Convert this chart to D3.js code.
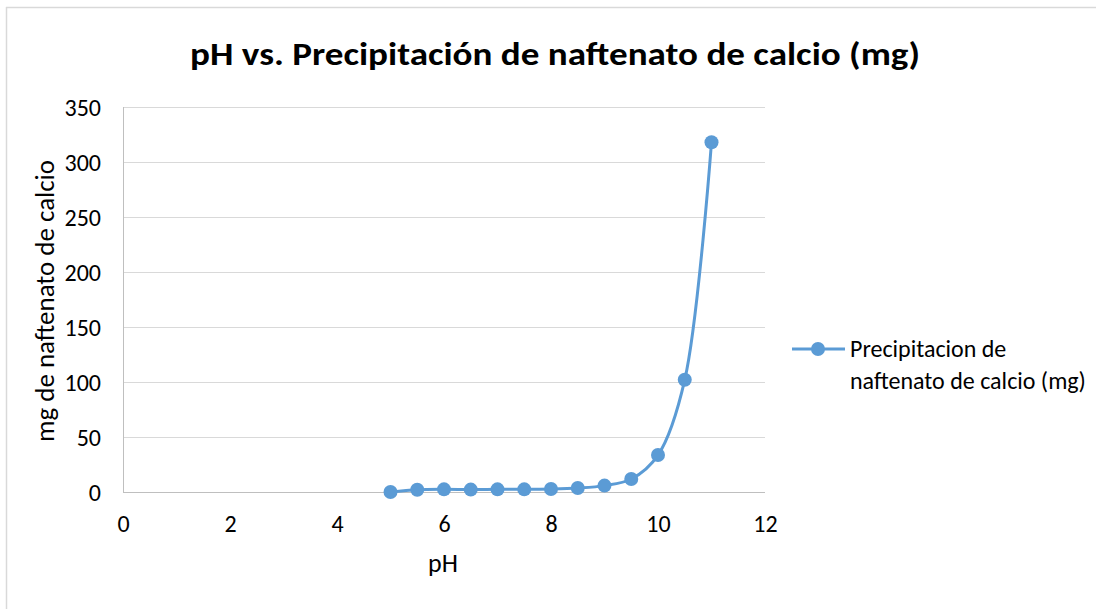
<!DOCTYPE html>
<html><head><meta charset="utf-8">
<script src="https://cdn.jsdelivr.net/npm/d3@7"></script>
<style>body{margin:0;background:#fff;overflow:hidden}svg{display:block}text{font-family:Carlito,Calibri,"Liberation Sans",Arial,sans-serif;fill:#000}</style>
</head><body>
<svg id="c" width="1096" height="609"></svg>
<script>
const phValues = [5, 5.5, 6, 6.5, 7, 7.5, 8, 8.5, 9, 9.5, 10, 10.5, 11];
const mgValues = [0, 2, 2.4, 2.2, 2.4, 2.4, 2.7, 3.6, 5.8, 11.8, 33.6, 102, 318];
const xTicks = [0, 2, 4, 6, 8, 10, 12];
const yTicks = [0, 50, 100, 150, 200, 250, 300, 350];
const seriesName = ["Precipitacion de", "naftenato de calcio (mg)"];
const titleText = "pH vs. Precipitación de naftenato de calcio (mg)";
const xTitle = "pH";
const yTitle = "mg de naftenato de calcio";

const FONT = 'Carlito,Calibri,"Liberation Sans",Arial,sans-serif';
const svg = d3.select("#c");
const color = "#5b9bd5";
const x = d3.scaleLinear().domain([0, 12]).range([123, 765]);
const y = d3.scaleLinear().domain([0, 350]).range([492, 107]);

// chart area border (only left and top visible)
svg.append("line").attr("x1",6.5).attr("x2",6.5).attr("y1",7).attr("y2",609).attr("stroke","#d9d9d9").attr("stroke-width",1.5);
svg.append("line").attr("x1",6).attr("x2",1096).attr("y1",7.5).attr("y2",7.5).attr("stroke","#d9d9d9").attr("stroke-width",1.5);

// grid
svg.append("g").selectAll("line").data(yTicks.filter(d=>d>0)).join("line")
  .attr("x1",x(0)).attr("x2",x(12)).attr("y1",d=>Math.round(y(d))+0.5).attr("y2",d=>Math.round(y(d))+0.5)
  .attr("stroke","#d9d9d9").attr("stroke-width",1);
svg.append("line").attr("x1",x(0)).attr("x2",x(12)).attr("y1",y(0)+0.5).attr("y2",y(0)+0.5).attr("stroke","#bfbfbf");
svg.append("line").attr("x1",x(0)+0.5).attr("x2",x(0)+0.5).attr("y1",y(0)).attr("y2",y(350)).attr("stroke","#bfbfbf");

// tick labels
const xa = d3.axisBottom(x).tickValues(xTicks).tickSize(0).tickPadding(0);
const gx = svg.append("g").attr("transform",`translate(0,${y(0)})`).call(xa);
gx.select(".domain").remove();
gx.selectAll("text").attr("y",40).attr("dy",0).style("font-size","24px").style("font-family",FONT).attr("fill","#000");
const ya = d3.axisLeft(y).tickValues(yTicks).tickSize(0).tickPadding(0);
const gy = svg.append("g").attr("transform",`translate(101,0)`).call(ya);
gy.select(".domain").remove();
gy.selectAll("text").attr("x",0).attr("dy","0.35em").style("font-size","24px").style("font-family",FONT).attr("fill","#000");

// titles
svg.append("text").attr("x",555).attr("y",65).attr("text-anchor","middle")
  .style("font-size","33px").style("font-weight","bold").text(titleText)
  .attr("textLength",730).attr("lengthAdjust","spacingAndGlyphs");
svg.append("text").attr("x",443).attr("y",572).attr("text-anchor","middle").style("font-size","26px").text(xTitle);
svg.append("text").attr("transform","translate(54,301) rotate(-90)").attr("text-anchor","middle")
  .style("font-size","26px").text(yTitle).attr("textLength",282).attr("lengthAdjust","spacingAndGlyphs");

// series
const pts = phValues.map((p,i)=>[p, mgValues[i]]);
const line = d3.line().x(d=>x(d[0])).y(d=>y(d[1])).curve(d3.curveCatmullRom.alpha(0.5));
svg.append("path").datum(pts).attr("d",line).attr("fill","none").attr("stroke",color).attr("stroke-width",3);
svg.append("g").selectAll("circle").data(pts).join("circle")
  .attr("cx",d=>x(d[0])).attr("cy",d=>y(d[1])).attr("r",7).attr("fill",color);

// legend
svg.append("line").attr("x1",792).attr("x2",845).attr("y1",349).attr("y2",349).attr("stroke",color).attr("stroke-width",3);
svg.append("circle").attr("cx",818).attr("cy",349).attr("r",7).attr("fill",color);
svg.append("text").attr("x",850).attr("y",357).style("font-size","24px").text(seriesName[0]);
svg.append("text").attr("x",850).attr("y",389).style("font-size","24px").text(seriesName[1]);
</script>
</body></html>
